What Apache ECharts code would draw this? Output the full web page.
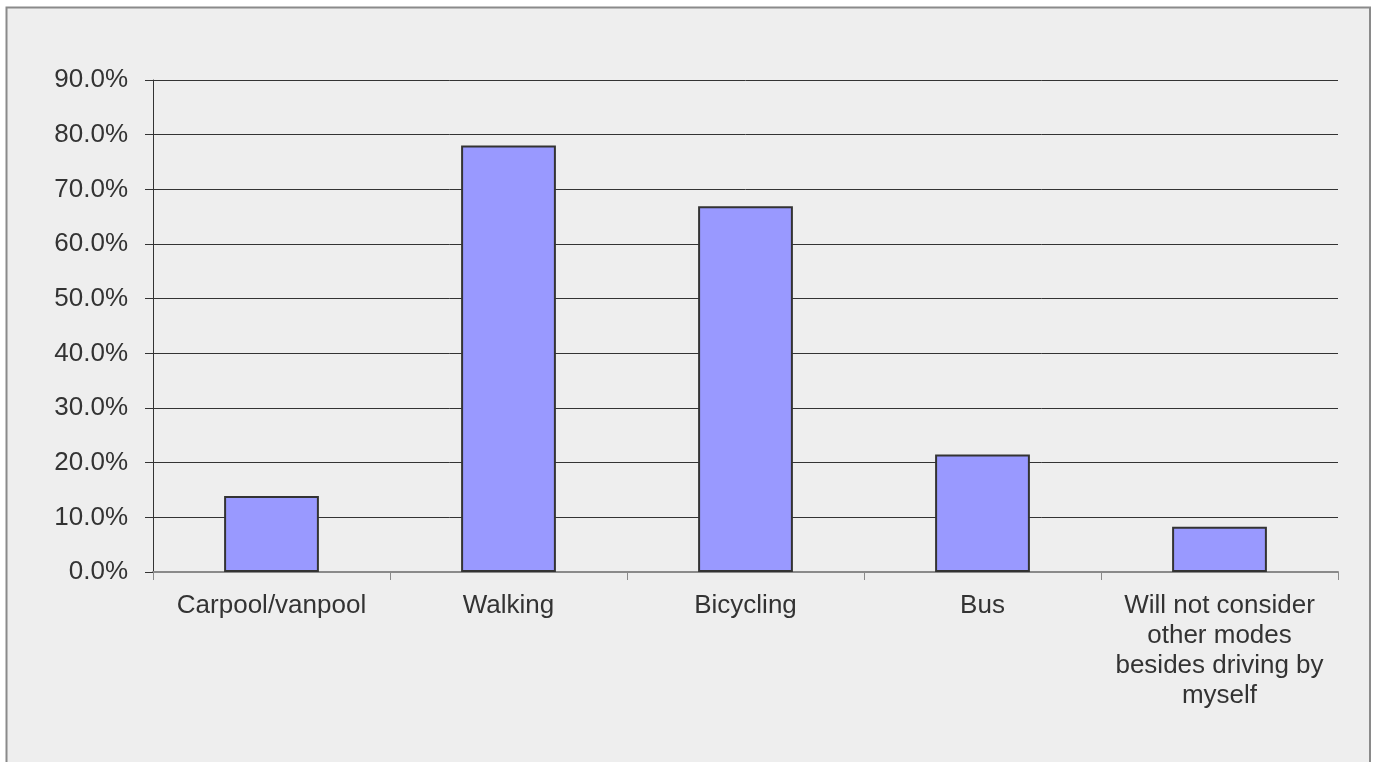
<!DOCTYPE html>
<html>
<head>
<meta charset="utf-8">
<script src="https://cdn.jsdelivr.net/npm/echarts@6/dist/echarts.min.js"></script>
<style>
html,body{margin:0;padding:0;background:#ffffff;}
#chart{width:1374px;height:762px;}
</style>
</head>
<body>
<div id="chart"></div>
<script>
const categories = ['Carpool/vanpool', 'Walking', 'Bicycling', 'Bus', 'Will not consider\nother modes\nbesides driving by\nmyself'];
const values = [13.9, 78.0, 66.9, 21.5, 8.3];
const yMin = 0, yMax = 90, yStep = 10;

const chart = echarts.init(document.getElementById('chart'), null, {renderer: 'canvas'});
const font = '"Liberation Sans", Arial, sans-serif';
chart.setOption({
  backgroundColor: '#ffffff',
  animation: false,
  graphic: [{
    type: 'rect', z: -10, silent: true,
    shape: {x: 6.5, y: 7.5, width: 1363.5, height: 780},
    style: {fill: '#eeeeee', stroke: '#8a8a8a', lineWidth: 2}
  }],
  grid: {left: 153, right: 36, top: 80, bottom: 190, containLabel: false},
  xAxis: {
    type: 'category',
    data: categories,
    boundaryGap: true,
    axisLine: {show: true, lineStyle: {color: '#8a8a8a', width: 2}},
    axisTick: {show: true, length: 8, lineStyle: {color: '#8a8a8a', width: 1}},
    axisLabel: {color: '#333333', fontFamily: font, fontSize: 26, lineHeight: 30, margin: 19, interval: 0}
  },
  yAxis: {
    type: 'value',
    min: yMin, max: yMax, interval: yStep,
    axisLine: {show: true, lineStyle: {color: '#333333', width: 1}},
    axisTick: {show: true, length: 8, lineStyle: {color: '#333333', width: 1}},
    axisLabel: {color: '#333333', fontFamily: font, fontSize: 26, margin: 25,
      formatter: v => v.toFixed(1) + '%'},
    splitLine: {show: true, lineStyle: {color: '#333333', width: 1}}
  },
  series: [{
    type: 'bar',
    data: values,
    barWidth: '40%',
    itemStyle: {color: '#9999ff', borderColor: '#333333', borderWidth: 2}
  }]
});
</script>
</body>
</html>
